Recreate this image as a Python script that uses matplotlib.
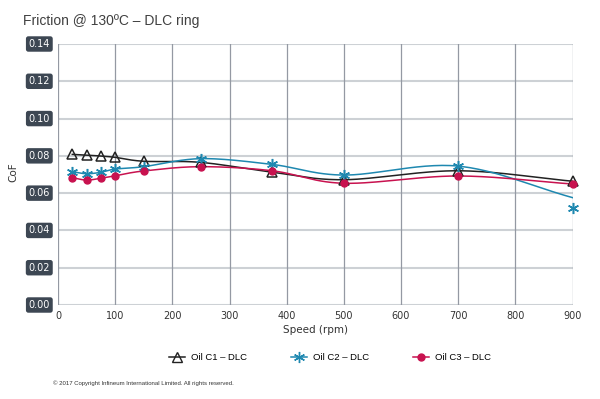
import numpy as np
import matplotlib
matplotlib.use("Agg")
import matplotlib.pyplot as plt
from matplotlib.lines import Line2D

speed = [25, 50, 75, 100, 150, 250, 375, 500, 700, 900]
c1 = [0.0808, 0.0804, 0.0799, 0.0792, 0.0771, 0.0765, 0.0712, 0.0672, 0.0720, 0.0664]
c2 = [0.0715, 0.0704, 0.0712, 0.0729, 0.0742, 0.0785, 0.0754, 0.0697, 0.0745, 0.0522]
c3 = [0.0683, 0.0670, 0.0680, 0.0693, 0.0719, 0.0742, 0.0720, 0.0653, 0.0692, 0.0649]
# smoothed line knots (C2 curve ends above its last marker)
c1_line = c1
c2_line = c2[:-1] + [0.0576]
c3_line = c3
labels = ["Oil C1 \u2013 DLC", "Oil C2 \u2013 DLC", "Oil C3 \u2013 DLC"]
yticks = [0.00, 0.02, 0.04, 0.06, 0.08, 0.10, 0.12, 0.14]
xticks = [0, 100, 200, 300, 400, 500, 600, 700, 800, 900]


def smooth(xs, ys, n=30):
    xs = np.asarray(xs, float)
    ys = np.asarray(ys, float)
    px = np.concatenate([[2 * xs[0] - xs[1]], xs, [2 * xs[-1] - xs[-2]]])
    py = np.concatenate([[2 * ys[0] - ys[1]], ys, [2 * ys[-1] - ys[-2]]])
    ox, oy = [], []
    for i in range(1, len(px) - 2):
        t = np.linspace(0, 1, n)
        for arr, out in ((px, ox), (py, oy)):
            p0, p1, p2, p3 = arr[i - 1], arr[i], arr[i + 1], arr[i + 2]
            out.extend(0.5 * ((2 * p1) + (-p0 + p2) * t +
                              (2 * p0 - 5 * p1 + 4 * p2 - p3) * t ** 2 +
                              (-p0 + 3 * p1 - 3 * p2 + p3) * t ** 3))
    return np.array(ox), np.array(oy)


fig = plt.figure(figsize=(6.0, 3.99), dpi=100)
ax = fig.add_axes([58 / 600, 1 - 305 / 399, (572.5 - 58) / 600, (305 - 44) / 399])

ax.set_xlim(0, 900)
ax.set_ylim(0, 0.14)
ax.set_xticks(xticks)
ax.set_yticks(yticks)
for y in yticks:
    ax.axhline(y, color="#cdd1d5", lw=1.5, zorder=1)
for x in xticks:
    ax.axvline(x, color="#9499a3", lw=0.9, zorder=1)
for s in ax.spines.values():
    s.set_visible(False)

col1, col2, col3 = "#222222", "#1e88b0", "#c8124f"
lx, ly = smooth(speed, c1_line)
ax.plot(lx, ly, color=col1, lw=1.1, zorder=3)
lx, ly = smooth(speed, c2_line)
ax.plot(lx, ly, color=col2, lw=1.1, zorder=3)
lx, ly = smooth(speed, c3_line)
ax.plot(lx, ly, color=col3, lw=1.1, zorder=3)

ax.plot(speed, c1, ls="none", marker="^", ms=7, mfc="none", mec=col1, mew=1.1, zorder=5, clip_on=False)
ax.plot(speed, c2, ls="none", marker=(6, 2, 0), ms=8, mec=col2, mew=1.1, zorder=5, clip_on=False)
ax.plot(speed, c3, ls="none", marker="o", ms=5, mfc=col3, mec=col3, zorder=5, clip_on=False)

ax.tick_params(axis="both", length=0)
ax.tick_params(axis="x", labelsize=7, colors="#333333", pad=4)
ax.set_yticklabels([])
for y in yticks:
    ax.text(-0.0155, y, f"{y:.2f}", transform=ax.get_yaxis_transform(),
            ha="right", va="center", fontsize=7, color="white",
            family="DejaVu Sans",
            bbox=dict(boxstyle="round,pad=0.28,rounding_size=0.25", fc="#3d4753", ec="none"))

ax.set_xlabel("Speed (rpm)", fontsize=7.5, color="#333333", labelpad=3)
fig.text(13 / 600, 1 - 172 / 399, "CoF", rotation=90, ha="center", va="center",
         fontsize=7.5, color="#333333")

fig.text(23 / 600, 1 - 21 / 399, "Friction @ 130\u00baC \u2013 DLC ring", ha="left", va="center",
         fontsize=10, color="#404040", family="Liberation Sans")

handles = [
    Line2D([], [], color=col1, lw=1.1, marker="^", ms=7, mfc="none", mec=col1),
    Line2D([], [], color=col2, lw=1.1, marker=(6, 2, 0), ms=8, mec=col2),
    Line2D([], [], color=col3, lw=1.1, marker="o", ms=5, mfc=col3, mec=col3),
]
fig.legend(handles, labels, loc="center", bbox_to_anchor=(330 / 600, 1 - 358 / 399),
           ncol=3, frameon=False, handlelength=1.7, handletextpad=0.65,
           columnspacing=4.6, prop={"family": "Liberation Sans", "size": 6.8})

fig.text(53 / 600, 1 - 383 / 399, "\u00a9 2017 Copyright Infineum International Limited. All rights reserved.",
         ha="left", va="center", fontsize=4.3, color="#333333", family="Liberation Sans")

fig.savefig("out.png", dpi=100, facecolor="white")
